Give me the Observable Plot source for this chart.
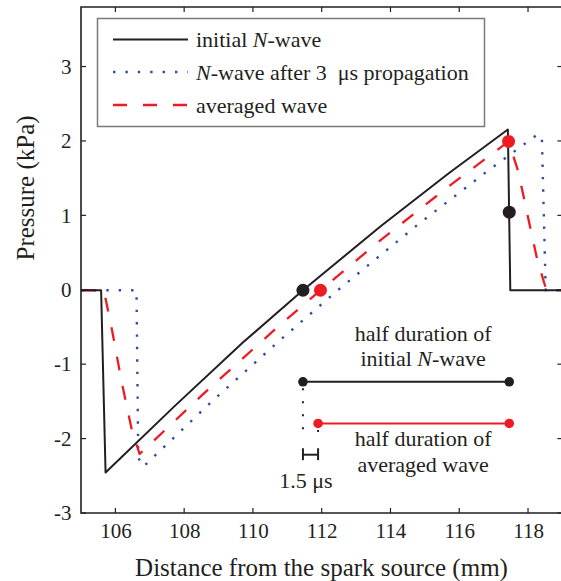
<!DOCTYPE html>
<html><head><meta charset="utf-8">
<script src="https://cdn.jsdelivr.net/npm/d3@7"></script>
<script src="https://cdn.jsdelivr.net/npm/@observablehq/plot@0.6"></script>
<style>body{margin:0;background:#fff} svg{display:block}</style>
</head><body><div id="chart"></div>
<script>
// ---- data ----
const xDomain = [105, 119];
const yDomain = [-3, 3.8];
const xTicks = [106, 108, 110, 112, 114, 116, 118];
const yTicks = [-3, -2, -1, 0, 1, 2, 3];
const xLabel = "Distance from the spark source (mm)";
const yLabel = "Pressure (kPa)";

// initial N-wave (black solid)
const initX = [105, 105.57, 105.70, 107.70, 109.70, 111.44, 113.70, 115.70, 117.40, 117.47, 119];
const initY = [0, 0, -2.45, -1.56, -0.70, 0, 0.86, 1.58, 2.16, 0, 0];
// N-wave after 3 us propagation (blue dotted)
const propX = [105, 106.60, 106.65, 106.80, 108.80, 110.80, 112.45, 114.80, 116.80, 118.28, 118.39, 118.50, 119];
const propY = [0, 0, -2.25, -2.37, -1.49, -0.66, 0, 0.89, 1.60, 2.10, 2.03, 0, 0];
// averaged wave (red dashed)
const avgX = [105, 105.65, 105.89, 106.18, 106.47, 106.69, 108.69, 110.69, 111.95, 113.69, 115.69, 117.42, 117.70, 118.00, 118.25, 118.52, 119];
const avgY = [0, 0, -0.54, -1.26, -1.89, -2.20, -1.33, -0.50, 0, 0.67, 1.40, 2.00, 1.60, 0.95, 0.42, 0, 0];

// marked points
const blackDotX = [111.44, 117.44];
const blackDotY = [0, 1.05];
const redDotX = [111.95, 117.42];
const redDotY = [0, 2.0];

// half-duration bars
const barY = [-1.23, -1.79];
const barStart = [111.44, 111.88];
const barEnd = [117.44, 117.44];
const barColor = ["black", "red"];
const guideBottom = -2.0;
const bracketY = -2.21;
const bracketLabel = "1.5 μs";
const bracketLabelPos = [111.54, -2.56];

const annoLabels = ["half duration of", "initial N-wave", "half duration of", "averaged wave"];
const annoX = [114.95, 114.95, 114.95, 114.95];
const annoY = [-0.585, -0.92, -2.0, -2.35];

const legendLabels = ["initial N-wave", "N-wave after 3\u2002μs propagation", "averaged wave"];

// ---- styles ----
const FONT = "'Liberation Serif', 'Times New Roman', serif";
const COL = {black: "#231f20", red: "#ed1c24", blue: "#2e4ea3"};
const seriesStyle = [
  {stroke: COL.black, strokeWidth: 2, dash: null},
  {stroke: COL.blue, strokeWidth: 2.4, dash: "2.4,10"},
  {stroke: COL.red, strokeWidth: 2.3, dash: "14,16"}
];

const rows = (xs, ys) => xs.map((x, i) => ({x, y: ys[i]}));

function italicN(sel, str) {
  const parts = str.split(/(N)(?=-wave)/);
  for (const p of parts) {
    const t = sel.append("tspan").text(p);
    if (p === "N") t.attr("font-style", "italic");
  }
}

// frame + inward ticks
function frameMark(index, scales) {
  const x = scales.x, y = scales.y;
  const g = d3.create("svg:g").attr("stroke", COL.black).attr("fill", "none");
  const x0 = x(xDomain[0]), x1 = x(xDomain[1]), yb = y(yDomain[0]), yt = y(yDomain[1]);
  const t = g.append("g").attr("stroke-width", 1.2);
  for (const v of xTicks) {
    t.append("line").attr("x1", x(v)).attr("x2", x(v)).attr("y1", yb).attr("y2", yb - 5);
    t.append("line").attr("x1", x(v)).attr("x2", x(v)).attr("y1", yt).attr("y2", yt + 5);
  }
  for (const v of yTicks) {
    t.append("line").attr("x1", x0).attr("x2", x0 + 5).attr("y1", y(v)).attr("y2", y(v));
    t.append("line").attr("x1", x1 - 5).attr("x2", x1).attr("y1", y(v)).attr("y2", y(v));
  }
  g.append("path").attr("stroke-width", 1.6)
    .attr("d", `M${x1},${yt}H${x0}V${yb}H${x1}`);
  return g.node();
}

function annoMark(index, scales) {
  const x = scales.x, y = scales.y;
  const g = d3.create("svg:g").attr("font-family", FONT).attr("font-size", 22)
    .attr("fill", COL.black).attr("text-anchor", "middle");
  annoLabels.forEach((s, i) => {
    const t = g.append("text").attr("x", x(annoX[i])).attr("y", y(annoY[i])).attr("dy", "0.35em");
    italicN(t, s);
  });
  g.append("text").attr("x", x(bracketLabelPos[0])).attr("y", y(bracketLabelPos[1])).attr("dy", "0.35em").text(bracketLabel);
  return g.node();
}

function legendMark() {
  const g = d3.create("svg:g");
  g.append("rect").attr("x", 97.5).attr("y", 18.5).attr("width", 387).attr("height", 108)
    .attr("fill", "white").attr("stroke", "#7a7a7a").attr("stroke-width", 1.5);
  const rowsY = [39.5, 72, 105];
  legendLabels.forEach((s, i) => {
    const st = seriesStyle[i];
    const l = g.append("line").attr("x1", 113).attr("x2", 188).attr("y1", rowsY[i]).attr("y2", rowsY[i])
      .attr("stroke", st.stroke).attr("stroke-width", st.strokeWidth);
    if (st.dash) l.attr("stroke-dasharray", st.dash);
    const t = g.append("text").attr("x", 196).attr("y", rowsY[i]).attr("dy", "0.35em")
      .attr("text-anchor", "start")
      .attr("font-family", FONT).attr("font-size", 22).attr("fill", COL.black);
    italicN(t, s);
  });
  return g.node();
}

const series = [rows(initX, initY), rows(propX, propY), rows(avgX, avgY)];
const bars = barY.map((y, i) => ({y, x1: barStart[i], x2: barEnd[i], c: barColor[i]}));

const chart = Plot.plot({
  width: 561,
  height: 581,
  marginLeft: 81,
  marginRight: 0,
  marginTop: 7,
  marginBottom: 68,
  style: {fontFamily: FONT, background: "white", color: COL.black},
  x: {domain: xDomain, range: [81, 562.4]},
  y: {domain: yDomain},
  marks: [
    Plot.axisX(xTicks, {tickSize: 0, tickPadding: 10, fontSize: 21, label: null, tickFormat: d => String(d)}),
    Plot.axisY(yTicks, {tickSize: 0, tickPadding: 10, fontSize: 21, label: null, tickFormat: d => String(d)}),
    Plot.text([xLabel], {frameAnchor: "bottom", dy: 54, fontSize: 25, lineAnchor: "middle"}),
    Plot.text([yLabel], {frameAnchor: "left", dx: -56, rotate: -90, fontSize: 25, lineAnchor: "middle"}),
    // series (blue below, then red, then black)
    Plot.line(series[1], {x: "x", y: "y", stroke: seriesStyle[1].stroke, strokeWidth: seriesStyle[1].strokeWidth, strokeDasharray: seriesStyle[1].dash, strokeLinecap: "butt"}),
    Plot.line(series[2], {x: "x", y: "y", stroke: seriesStyle[2].stroke, strokeWidth: seriesStyle[2].strokeWidth, strokeDasharray: seriesStyle[2].dash, strokeLinecap: "butt"}),
    Plot.line(series[0], {x: "x", y: "y", stroke: seriesStyle[0].stroke, strokeWidth: seriesStyle[0].strokeWidth}),
    // guides and bracket
    Plot.ruleX(barStart, {x: d => d, y1: (d, i) => barY[i], y2: guideBottom, stroke: COL.black, strokeWidth: 2, strokeDasharray: "2,11", strokeDashoffset: -7}),
    Plot.ruleY([bracketY], {x1: barStart[0], x2: barStart[1], stroke: COL.black, strokeWidth: 2}),
    Plot.ruleX(barStart, {x: d => d, y1: bracketY + 0.08, y2: bracketY - 0.08, stroke: COL.black, strokeWidth: 2}),
    // half-duration bars
    Plot.ruleY(bars, {y: "y", x1: "x1", x2: "x2", stroke: d => COL[d.c], strokeWidth: 2}),
    Plot.dot(bars.flatMap(b => [{x: b.x1, y: b.y, c: b.c}, {x: b.x2, y: b.y, c: b.c}]), {x: "x", y: "y", r: 4.8, fill: d => COL[d.c], stroke: "none"}),
    // marked points
    Plot.dot(rows(blackDotX, blackDotY), {x: "x", y: "y", r: 6.5, fill: COL.black, stroke: "none"}),
    Plot.dot(rows(redDotX, redDotY), {x: "x", y: "y", r: 6.5, fill: COL.red, stroke: "none"}),
    annoMark,
    legendMark,
    frameMark
  ]
});
document.getElementById("chart").appendChild(chart);
</script>
</body></html>
